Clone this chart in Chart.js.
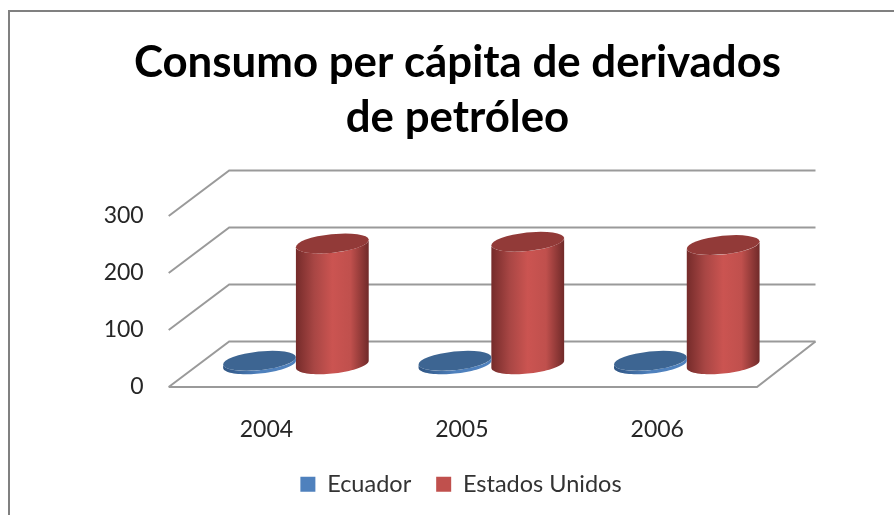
<!DOCTYPE html>
<html>
<head>
<meta charset="utf-8">
<style>
html,body{margin:0;padding:0;background:#fff;overflow:hidden}
#wrap{position:relative;width:894px;height:515px}
#c{filter:blur(0.5px)}
</style>
<script src="https://cdn.jsdelivr.net/npm/chart.js@4"></script>
</head>
<body>
<div id="wrap"><canvas id="c" width="894" height="515"></canvas></div>
<script>
const categories = ['2004', '2005', '2006'];
const ecuador = [6, 6, 6];
const estadosUnidos = [212, 215, 209];
const yTickValues = [0, 100, 200, 300];
const titleLines = ['Consumo per cápita de derivados', 'de petróleo'];

const DEPTH_X = 60.5, DEPTH_Y = 45.5, BAR_SHIFT_X = 29.5;
const LATO = 'Lato, Carlito, "Open Sans", sans-serif';

function ellipsePath(ctx, cx, cy, ux, vx, vy) {
  ctx.save();
  ctx.transform(ux, 0, vx, vy, cx, cy);
  ctx.arc(0, 0, 1, 0, Math.PI * 2);
  ctx.restore();
}

const cylinderStyles = [
  {side: ['#2f5583', '#4f81bd', '#4f81bd'], top: '#3d6592'},
  {side: ['#752b2a', '#a84644', '#cb5451', '#c0504d', '#702a29'], top: '#923a38'}
];

const scene = {
  id: 'scene',
  beforeDraw(chart) {
    const {ctx} = chart;
    ctx.save();
    ctx.fillStyle = '#fff';
    ctx.fillRect(0, 0, chart.width, chart.height);
    ctx.strokeStyle = '#808080';
    ctx.lineWidth = 2;
    ctx.beginPath();
    ctx.moveTo(9, 515); ctx.lineTo(9, 11); ctx.lineTo(894, 11);
    ctx.stroke();
    ctx.restore();
  },
  beforeDatasetsDraw(chart) {
    const {ctx, chartArea: a, scales: {y}} = chart;
    ctx.save();
    ctx.strokeStyle = '#9a9a9a';
    ctx.lineWidth = 2;
    yTickValues.forEach(v => {
      const py = y.getPixelForValue(v);
      ctx.beginPath();
      ctx.moveTo(a.left, py);
      ctx.lineTo(a.left + DEPTH_X, py - DEPTH_Y);
      ctx.lineTo(a.right + DEPTH_X, py - DEPTH_Y);
      ctx.stroke();
    });
    const p0 = y.getPixelForValue(0);
    ctx.beginPath();
    ctx.moveTo(a.left, p0);
    ctx.lineTo(a.right + 2, p0);
    ctx.lineTo(a.right + DEPTH_X, p0 - DEPTH_Y);
    ctx.stroke();
    ctx.restore();
  },
  beforeDatasetDraw(chart, args) {
    const {ctx} = chart;
    const style = cylinderStyles[args.index];
    chart.getDatasetMeta(args.index).data.forEach(bar => {
      const half = bar.width / 2;
      const vx = 13, vy = -10;
      const ux = Math.sqrt(Math.max(half * half - vx * vx, 1));
      const cx = bar.x + BAR_SHIFT_X;
      const topY = bar.y - DEPTH_Y / 2;
      const baseY = bar.base - DEPTH_Y / 2;
      const tL = Math.PI + Math.atan2(vx, ux);
      const g = ctx.createLinearGradient(cx - half, 0, cx + half, 0);
      style.side.forEach((c, i) => g.addColorStop(i / (style.side.length - 1), c));
      ctx.save();
      ctx.beginPath();
      const n = 40;
      // front half of the base ellipse, then back along the top ellipse
      for (let i = 0; i <= n; i++) {
        const t = tL + (Math.PI * i) / n;
        const px = cx + ux * Math.cos(t) + vx * Math.sin(t);
        const py = baseY + vy * Math.sin(t);
        if (i === 0) ctx.moveTo(px, py); else ctx.lineTo(px, py);
      }
      for (let i = n; i >= 0; i--) {
        const t = tL + (Math.PI * i) / n;
        ctx.lineTo(cx + ux * Math.cos(t) + vx * Math.sin(t), topY + vy * Math.sin(t));
      }
      ctx.closePath();
      ctx.fillStyle = g;
      ctx.fill();
      ctx.beginPath();
      ellipsePath(ctx, cx, topY, ux, vx, vy);
      ctx.fillStyle = style.top;
      ctx.fill();
      ctx.restore();
    });
    return false;
  },
  afterLayout(chart) {
    chart.legend.left += 83.5; chart.legend.right += 83.5;
    chart.titleBlock.left += 80; chart.titleBlock.right += 80;
  }
};

new Chart(document.getElementById('c'), {
  type: 'bar',
  plugins: [scene],
  data: {
    labels: categories,
    datasets: [
      {label: 'Ecuador', data: ecuador, backgroundColor: '#4f81bd'},
      {label: 'Estados Unidos', data: estadosUnidos, backgroundColor: '#c0504d'}
    ]
  },
  options: {
    responsive: false,
    animation: false,
    layout: {padding: {left: 0, right: 139, top: 0, bottom: 9}},
    datasets: {bar: {categoryPercentage: 0.745, barPercentage: 1}},
    scales: {
      x: {
        grid: {display: false, drawTicks: false},
        border: {display: false},
        afterFit(s) { s.height = 60.5; },
        ticks: {padding: 29, color: '#262626', font: {family: LATO, size: 23}, maxRotation: 0}
      },
      y: {
        min: 0, max: 300,
        grid: {display: false, drawTicks: false},
        border: {display: false},
        afterFit(s) { s.width = 168.7; },
        afterBuildTicks(s) { s.ticks = yTickValues.map(value => ({value})); },
        ticks: {padding: 25, color: '#262626', font: {family: LATO, size: 23}}
      }
    },
    plugins: {
      tooltip: {enabled: false},
      title: {
        display: true,
        text: titleLines,
        color: '#000',
        padding: {top: 35, bottom: 71},
        font: {family: LATO, size: 43.8, weight: 'bold', lineHeight: '55px'}
      },
      legend: {
        position: 'bottom',
        labels: {
          boxWidth: 15, boxHeight: 15, padding: 25, color: '#333',
          font: {family: LATO, size: 23.5}
        }
      }
    }
  }
});
</script>
</body>
</html>
